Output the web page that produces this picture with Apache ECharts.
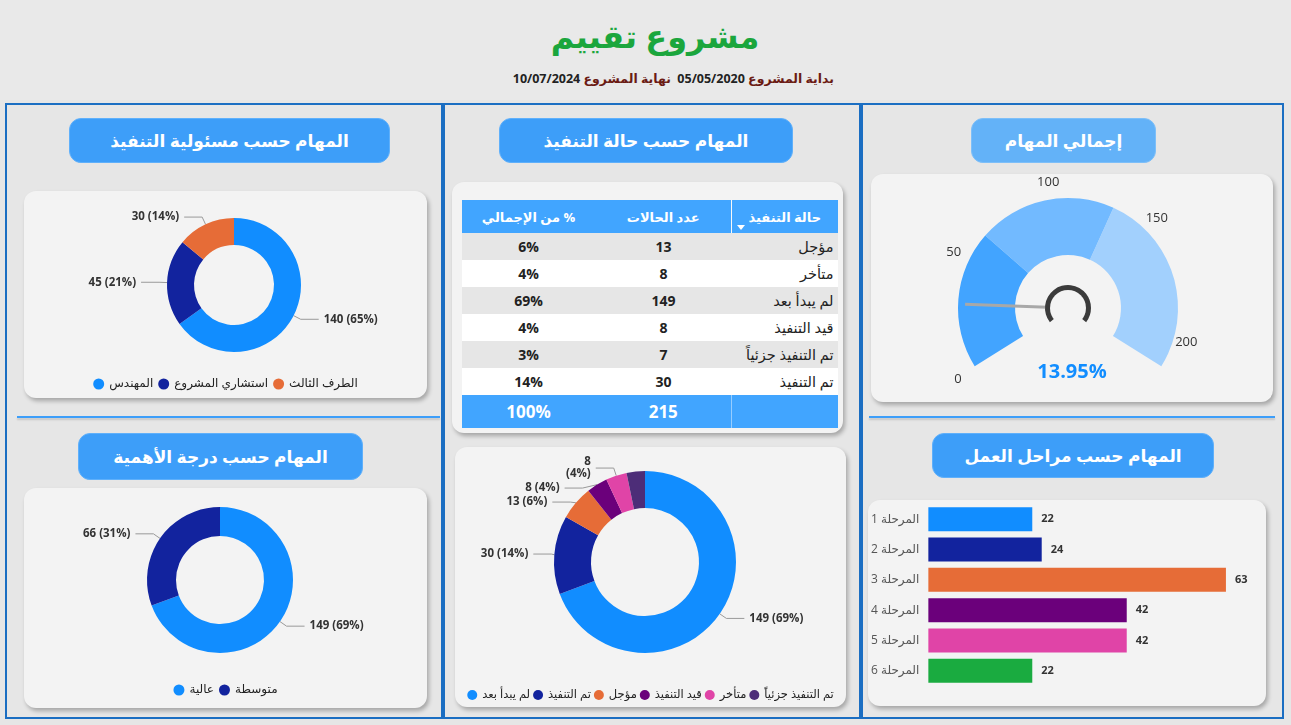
<!DOCTYPE html>
<html lang="ar">
<head>
<meta charset="utf-8">
<title>مشروع تقييم</title>
<script src="https://cdn.jsdelivr.net/npm/echarts@6/dist/echarts.min.js"></script>
<style>
body{margin:0;width:1291px;height:725px;background:#e6e6e6;font-family:'Open Sans','DejaVu Sans',sans-serif;position:relative;overflow:hidden}
.top{position:absolute;left:0;top:0;width:1291px;height:100px;background:#e9e9e9}
.title{position:absolute;left:455px;width:400px;top:14px;text-align:center;color:#1ba63d;font-size:32px;font-weight:bold}
.sub{position:absolute;left:420px;width:414px;top:70px;text-align:right;font-size:12.5px;font-weight:bold;color:#222;white-space:nowrap}
.sub .lb{color:#6b1b14}
.col{position:absolute;top:103px;height:616px;border:2.5px solid #1b6ec2;box-sizing:border-box}
.pill{position:absolute;background:#3d9ef9;color:#fff;border-radius:12px;font-weight:bold;font-size:17px;border:1px solid #5fb0fb;box-sizing:border-box;display:flex;align-items:center;justify-content:center}
.card{position:absolute;background:#f3f3f3;border-radius:12px;box-shadow:2px 3px 4px rgba(0,0,0,.28)}
.sep{position:absolute;height:2px;background:#3d9ef9;box-shadow:0 2px 2px rgba(0,0,0,.15)}
#tbl{position:absolute;left:9px;top:18px;width:376px;border-collapse:collapse;table-layout:fixed}
#tbl td,#tbl th{padding:0;text-align:center;color:#222;font-weight:bold;font-size:14px;height:27px}
#tbl th{background:#41a5ff;color:#fff;font-size:13px;height:33px;position:relative}
#tbl td.nm{text-align:right;font-weight:normal;font-size:14.5px;padding-right:4px}
#tbl tr.odd td{background:#e6e6e6}
#tbl tr.even td{background:#fff}
#tbl tr.tot td{background:#41a5ff;color:#fff;font-size:17px;height:33px}
#tbl .c1{border-left:1px solid rgba(255,255,255,.45)}
.tri{position:absolute;left:5px;bottom:3px;width:0;height:0;border-left:4px solid transparent;border-right:4px solid transparent;border-top:5px solid #fff}
</style>
</head>
<body>
<div class="top"></div>
<div class="title">مشروع تقييم</div>
<div class="sub" dir="rtl"><span class="lb">بداية المشروع</span> <span id="d1"></span>&nbsp;&nbsp;<span class="lb">نهاية المشروع</span> <span id="d2"></span></div>

<div class="col" style="left:5px;width:438px"></div>
<div class="col" style="left:443px;width:418px"></div>
<div class="col" style="left:861px;width:423px"></div>

<div class="sep" style="left:17px;top:416px;width:423px"></div>
<div class="sep" style="left:869px;top:416px;width:406px"></div>

<div class="pill" style="left:69px;top:118px;width:321px;height:45px">المهام حسب مسئولية التنفيذ</div>
<div class="pill" style="left:499px;top:118px;width:294px;height:45px">المهام حسب حالة التنفيذ</div>
<div class="pill" style="left:971px;top:118px;width:185px;height:45px;background:#63b2f8;border-color:#7dbff9">إجمالي المهام</div>
<div class="pill" style="left:78px;top:433px;width:285px;height:47px">المهام حسب درجة الأهمية</div>
<div class="pill" style="left:932px;top:433px;width:282px;height:45px">المهام حسب مراحل العمل</div>

<div class="card" id="echarts" style="left:24px;top:191px;width:403px;height:207px"></div>
<div class="card" id="echarts1" style="left:24px;top:488px;width:403px;height:220px"></div>
<div class="card" style="left:452px;top:182px;width:391px;height:251px"><table id="tbl" dir="rtl"></table></div>
<div class="card" id="echarts2" style="left:455px;top:447px;width:391px;height:260px"></div>
<div class="card" id="echarts3" style="left:871px;top:174px;width:402px;height:228px"></div>
<div class="card" id="echarts4" style="left:868px;top:500px;width:398px;height:206px"></div>

<script>
// 数据
var startDate = '05/05/2020'
var endDate = '10/07/2024'

var ownerNames = ['المهندس', 'استشاري المشروع', 'الطرف الثالث']
var ownerValues = [140, 45, 30]

var priorityNames = ['عالية', 'متوسطة']
var priorityValues = [149, 66]

// 表格顺序
var statusNames = ['مؤجل', 'متأخر', 'لم يبدأ بعد', 'قيد التنفيذ', 'تم التنفيذ جزئياً', 'تم التنفيذ']
var statusCounts = [13, 8, 149, 8, 7, 30]

// 环形图顺序
var donutNames = ['لم يبدأ بعد', 'تم التنفيذ', 'مؤجل', 'قيد التنفيذ', 'متأخر', 'تم التنفيذ جزئياً']
var donutValues = [149, 30, 13, 8, 8, 7]

var phaseNames = ['المرحلة 1', 'المرحلة 2', 'المرحلة 3', 'المرحلة 4', 'المرحلة 5', 'المرحلة 6']
var phaseValues = [22, 24, 63, 42, 42, 22]

var gaugeValue = 30
var gaugeTotal = 215
var gaugeTicks = [0, 50, 100, 150, 200]

var FONT = "'Open Sans','DejaVu Sans',sans-serif"
var pbi = ['#118dff', '#12239e', '#e66c37', '#6b007b', '#e044a7', '#4d2d78']
var phaseColors = ['#118dff', '#12239e', '#e66c37', '#6b007b', '#e044a7', '#1aab40']

window.onload = function () {
	document.getElementById('d1').textContent = startDate
	document.getElementById('d2').textContent = endDate

	// 表格
	var total = 0
	for (var i = 0; i < statusCounts.length; i++) total += statusCounts[i]
	var html = '<colgroup><col style="width:106px"><col style="width:136px"><col style="width:134px"></colgroup>'
	html += '<tr><th class="c1">حالة التنفيذ<span class="tri"></span></th><th>عدد الحالات</th><th>% من الإجمالي</th></tr>'
	for (var i = 0; i < statusNames.length; i++) {
		html += '<tr class="' + (i % 2 == 0 ? 'odd' : 'even') + '"><td class="nm">' + statusNames[i] + '</td><td>' +
			statusCounts[i] + '</td><td>' + Math.round(statusCounts[i] / total * 100) + '%</td></tr>'
	}
	html += '<tr class="tot"><td class="c1"></td><td>' + total + '</td><td>100%</td></tr>'
	document.getElementById('tbl').innerHTML = html

	var pieLabel = { show: true, formatter: '{c} ({d}%)', fontSize: 11.5, fontWeight: 'bold', color: '#333', fontFamily: FONT }
	var pieLine = { length: 8, length2: 18, lineStyle: { color: '#999' } }
	var legendBase = { bottom: 6, left: 'center', padding: 0, icon: 'circle', itemWidth: 11, itemHeight: 11, itemGap: 5,
		textStyle: { fontSize: 12, color: '#222', fontFamily: FONT } }

	// 环形图 1
	var myChart = echarts.init(document.getElementById('echarts'))
	var option = {
		animation: false,
		legend: Object.assign({}, legendBase, { data: ownerNames, bottom: 8 }),
		series: [{
			type: 'pie',
			center: [210, 94],
			radius: [40, 67],
			percentPrecision: 0,
			label: pieLabel,
			labelLine: pieLine,
			data: ownerNames.map(function (n, i) {
				return { name: n, value: ownerValues[i], itemStyle: { color: pbi[i] } }
			})
		}]
	}
	myChart.setOption(option)

	// 环形图 2
	var myChart = echarts.init(document.getElementById('echarts1'))
	var option = {
		animation: false,
		legend: Object.assign({}, legendBase, { data: priorityNames, bottom: 12 }),
		series: [{
			type: 'pie',
			center: [196, 92],
			radius: [44, 73],
			percentPrecision: 0,
			label: pieLabel,
			labelLine: pieLine,
			data: priorityNames.map(function (n, i) {
				return { name: n, value: priorityValues[i], itemStyle: { color: pbi[i] } }
			})
		}]
	}
	myChart.setOption(option)

	// 环形图 3
	var myChart = echarts.init(document.getElementById('echarts2'))
	var option = {
		animation: false,
		legend: Object.assign({}, legendBase, { data: donutNames, itemGap: 3, itemWidth: 10, itemHeight: 10, bottom: 6,
			textStyle: { fontSize: 11.5, color: '#222', fontFamily: FONT } }),
		series: [{
			type: 'pie',
			center: [190, 115],
			radius: [54, 91],
			percentPrecision: 0,
			label: pieLabel,
			labelLine: pieLine,
			data: donutNames.map(function (n, i) {
				var d = { name: n, value: donutValues[i], itemStyle: { color: pbi[i] } }
				if (i == 4) d.label = { formatter: '{c}\n({d}%)' }
				if (i == 5) { d.label = { show: false }; d.labelLine = { show: false } }
				return d
			})
		}]
	}
	myChart.setOption(option)

	// 仪表盘
	var myChart = echarts.init(document.getElementById('echarts3'))
	var startA = 212, endA = -32
	var option = {
		animation: false,
		series: [{
			type: 'gauge',
			center: [197, 134],
			radius: 110,
			startAngle: startA,
			endAngle: endA,
			min: 0,
			max: gaugeTotal,
			axisLine: { lineStyle: { width: 57, color: [[0.3, '#42a4ff'], [0.6, '#72baff'], [1, '#a2d0fd']] } },
			splitLine: { show: false },
			axisTick: { show: false },
			axisLabel: { show: false },
			pointer: { icon: 'rect', length: 103, width: 3, itemStyle: { color: '#a8a8a8' } },
			anchor: { show: true, showAbove: true, size: 36, itemStyle: { color: '#f3f3f3' } },
			title: { show: false },
			detail: {
				offsetCenter: [4, 64],
				color: '#118dff',
				fontSize: 20,
				fontWeight: 'bold',
				fontFamily: FONT,
				formatter: function (v) { return (v / gaugeTotal * 100).toFixed(2) + '%' }
			},
			data: [{ value: gaugeValue }]
		}, {
			// 刻度标签
			type: 'gauge',
			center: [197, 134],
			radius: 110,
			startAngle: startA,
			endAngle: startA - (startA - endA) * gaugeTicks[gaugeTicks.length - 1] / gaugeTotal,
			min: gaugeTicks[0],
			max: gaugeTicks[gaugeTicks.length - 1],
			splitNumber: gaugeTicks.length - 1,
			axisLine: { show: false, lineStyle: { width: 0 } },
			splitLine: { show: false, length: 0, distance: 0 },
			axisTick: { show: false },
			axisLabel: { distance: -24, color: '#333', fontSize: 13, fontFamily: FONT },
			pointer: { show: false },
			anchor: { show: false },
			title: { show: false },
			detail: { show: false },
			data: []
		}, {
			// 中心圆环
			type: 'gauge',
			center: [197, 134],
			radius: 23,
			startAngle: 218,
			endAngle: -38,
			axisLine: { lineStyle: { width: 7, color: [[1, '#3b3b3b']] } },
			splitLine: { show: false },
			axisTick: { show: false },
			axisLabel: { show: false },
			pointer: { show: false },
			anchor: { show: false },
			title: { show: false },
			detail: { show: false },
			data: []
		}]
	}
	myChart.setOption(option)

	// 横条状图
	var myChart = echarts.init(document.getElementById('echarts4'))
	var option = {
		animation: false,
		grid: { left: 60, top: 4, width: 331, height: 182 },
		xAxis: { type: 'value', min: 0, max: 70, show: false },
		yAxis: {
			type: 'category',
			inverse: true,
			data: phaseNames,
			axisLine: { show: false },
			axisTick: { show: false },
			axisLabel: { color: '#555', fontSize: 12, margin: 9, fontFamily: FONT }
		},
		series: [{
			type: 'bar',
			barWidth: 24,
			data: phaseValues.map(function (v, i) {
				return { value: v, itemStyle: { color: phaseColors[i] } }
			}),
			label: { show: true, position: 'right', distance: 9, fontSize: 11, fontWeight: 'bold', color: '#333', fontFamily: FONT }
		}]
	}
	myChart.setOption(option)
}
</script>
</body>
</html>
